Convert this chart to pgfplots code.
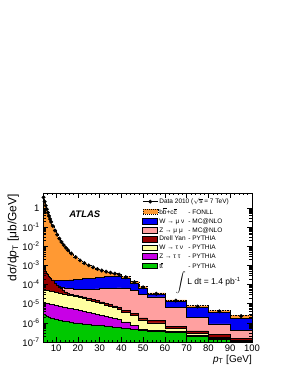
\documentclass[border=0pt]{standalone}
\usepackage{pgfplots}
\usepackage{pgfplotstable}
\usepackage{graphicx}
\pgfplotsset{compat=1.18}
\usepackage{fontspec}
\setmainfont{Liberation Sans}
\definecolor{cOrange}{RGB}{255,153,51}
\definecolor{cBlue}{RGB}{0,0,245}
\definecolor{cPink}{RGB}{255,160,160}
\definecolor{cDY}{RGB}{150,0,0}
\definecolor{cYellow}{RGB}{255,255,160}
\definecolor{cMag}{RGB}{200,0,230}
\definecolor{cGreen}{RGB}{0,200,0}
\newcommand{\ovl}[1]{\ensuremath{\overline{\mbox{#1}}}}

% cumulative stack tops, bin left edges
\pgfplotstableread{
x     tot     wmu     zmu     dy      wtau    ztau    tt
4     3.55    7.94e-4 7.94e-4 7.94e-4 5.62e-5 1.17e-5 2.82e-6
4.5   2.14    6.31e-4 6.31e-4 6.31e-4 5.50e-5 1.15e-5 2.63e-6
5     1.32    5.01e-4 5.01e-4 5.01e-4 5.25e-5 1.10e-5 2.45e-6
5.5   0.851   3.98e-4 3.98e-4 3.98e-4 5.13e-5 1.07e-5 2.29e-6
6     0.562   3.31e-4 3.31e-4 3.31e-4 5.01e-5 1.05e-5 2.14e-6
6.5   0.380   2.75e-4 2.75e-4 2.75e-4 4.79e-5 1.00e-5 2.00e-6
7     0.263   2.34e-4 2.34e-4 2.34e-4 4.68e-5 9.77e-6 1.91e-6
7.5   0.186   2.00e-4 2.00e-4 2.00e-4 4.57e-5 9.55e-6 1.82e-6
8     0.115   1.74e-4 1.58e-4 1.58e-4 4.37e-5 9.12e-6 1.70e-6
9     0.0661  1.58e-4 1.20e-4 1.20e-4 4.07e-5 8.51e-6 1.58e-6
10    0.0398  1.58e-4 9.55e-5 9.55e-5 3.89e-5 8.13e-6 1.48e-6
11    0.0251  1.58e-4 7.94e-5 7.59e-5 3.63e-5 7.59e-6 1.38e-6
12    0.0166  1.58e-4 7.41e-5 6.03e-5 3.47e-5 7.24e-6 1.32e-6
13    0.0115  1.62e-4 6.92e-5 5.01e-5 3.24e-5 6.76e-6 1.26e-6
14    8.32e-3 1.66e-4 6.61e-5 4.17e-5 3.02e-5 6.31e-6 1.20e-6
15    6.17e-3 1.70e-4 6.31e-5 3.55e-5 2.88e-5 6.03e-6 1.15e-6
16    4.17e-3 1.74e-4 6.03e-5 3.16e-5 2.63e-5 5.50e-6 1.07e-6
18    2.69e-3 1.82e-4 5.75e-5 2.82e-5 2.34e-5 4.90e-6 1.00e-6
20    1.82e-3 1.91e-4 5.62e-5 2.51e-5 2.04e-5 4.27e-6 9.33e-7
22    1.32e-3 2.00e-4 5.62e-5 2.24e-5 1.82e-5 3.80e-6 8.71e-7
24    1.00e-3 2.09e-4 5.62e-5 1.95e-5 1.58e-5 3.39e-6 8.32e-7
26    7.94e-4 2.19e-4 5.75e-5 1.70e-5 1.38e-5 3.02e-6 7.76e-7
28    6.46e-4 2.34e-4 5.89e-5 1.45e-5 1.17e-5 2.63e-6 7.41e-7
30    5.37e-4 2.45e-4 6.03e-5 1.23e-5 1.00e-5 2.34e-6 7.08e-7
32    4.68e-4 2.57e-4 6.17e-5 1.05e-5 8.51e-6 2.09e-6 6.76e-7
34    4.17e-4 2.69e-4 6.31e-5 8.91e-6 7.24e-6 1.86e-6 6.31e-7
36    3.72e-4 2.75e-4 6.46e-5 7.59e-6 6.17e-6 1.66e-6 6.03e-7
38    3.31e-4 2.82e-4 6.61e-5 6.46e-6 5.25e-6 1.48e-6 5.62e-7
40    2.63e-4 2.09e-4 6.31e-5 4.37e-6 3.55e-6 1.12e-6 5.01e-7
44    1.45e-4 1.17e-4 5.01e-5 3.16e-6 2.51e-6 7.08e-7 4.47e-7
48    7.94e-5 6.31e-5 3.16e-5 1.82e-6 1.41e-6 4.47e-7 3.98e-7
52    3.72e-5 3.02e-5 2.24e-5 1.32e-6 1.00e-6 3.98e-7 3.55e-7
60    1.58e-5 1.32e-5 6.31e-6 6.61e-7 5.01e-7 3.55e-7 3.16e-7
70    7.94e-6 6.31e-6 2.00e-6 3.80e-7 2.82e-7 2.24e-7 2.00e-7
80    4.47e-6 3.55e-6 8.91e-7 2.40e-7 1.78e-7 1.51e-7 1.41e-7
90    2.51e-6 1.78e-6 3.98e-7 1.58e-7 1.26e-7 1.12e-7 1.07e-7
100   2.51e-6 1.78e-6 3.98e-7 1.58e-7 1.26e-7 1.12e-7 1.07e-7
}\stack

\pgfplotstableread{
x     y
4.25  3.55
4.75  2.14
5.25  1.32
5.75  0.851
6.25  0.562
6.75  0.380
7.25  0.263
7.75  0.186
8.5   0.115
9.5   0.0661
10.5  0.0398
11.5  0.0251
12.5  0.0166
13.5  0.0115
14.5  8.32e-3
15.5  6.17e-3
17    4.17e-3
19    2.69e-3
21    1.82e-3
23    1.32e-3
25    1.00e-3
27    7.94e-4
29    6.46e-4
31    5.37e-4
33    4.68e-4
35    4.17e-4
37    3.72e-4
39    3.31e-4
42    2.40e-4
46    1.32e-4
50    7.08e-5
56    3.31e-5
65    1.45e-5
75    7.08e-6
85    3.98e-6
95    2.24e-6
}\data

\begin{document}
\begin{tikzpicture}[x=1pt,y=1pt]
\useasboundingbox (0,0) rectangle (286,371);
\begin{axis}[
  at={(43pt,29pt)}, anchor=south west,
  scale only axis, width=209pt, height=149pt,
  xmin=4, xmax=100, ymode=log, ymin=1e-7, ymax=6,
  log origin=infty, clip=false,
  xtick={0,10,20,...,100},
  xticklabels={0,10,20,30,40,50,60,70,80,90,100},
  minor x tick num=4,
  ytick={1e-7,1e-6,1e-5,1e-4,1e-3,1e-2,1e-1,1},
  yticklabels={10\textsuperscript{-7},10\textsuperscript{-6},10\textsuperscript{-5},10\textsuperscript{-4},10\textsuperscript{-3},10\textsuperscript{-2},10\textsuperscript{-1},1},
  tick align=inside,
  major tick length=5pt, minor tick length=2.5pt,
  tick style={black, line width=0.4pt},
  ticklabel style={font=\fontsize{9.5}{10}\selectfont},
  xticklabel style={yshift=1pt},
  axis line style={line width=0.5pt},
  axis on top,
  legend cell align=left,
  legend style={at={(rel axis cs:0.475,0.975)}, anchor=north west, draw=none, fill=none,
    font=\fontsize{6.5}{7}\selectfont, row sep=0pt, inner sep=0pt,
    nodes={inner sep=1.3pt}},
]
\addplot[const plot, fill=cOrange, draw=black, line width=0.5pt, dash pattern=on 1.5pt off 1pt, forget plot] table[x=x,y=tot]{\stack} \closedcycle;
\addplot[const plot, fill=cBlue, draw=black, line width=0.6pt, forget plot] table[x=x,y=wmu]{\stack} \closedcycle;
\addplot[const plot, fill=cPink, draw=black, line width=0.6pt, forget plot] table[x=x,y=zmu]{\stack} \closedcycle;
\addplot[const plot, fill=cDY, draw=black, line width=0.6pt, forget plot] table[x=x,y=dy]{\stack} \closedcycle;
\addplot[const plot, fill=cYellow, draw=black, line width=0.6pt, forget plot] table[x=x,y=wtau]{\stack} \closedcycle;
\addplot[const plot, fill=cMag, draw=black, line width=0.6pt, forget plot] table[x=x,y=ztau]{\stack} \closedcycle;
\addplot[const plot, fill=cGreen, draw=black, line width=0.6pt, forget plot] table[x=x,y=tt]{\stack} \closedcycle;
\addplot[only marks, mark=*, mark size=1.8pt, black, forget plot] table[x=x,y=y]{\data};

\addlegendimage{legend image code/.code={\draw[black,line width=0.6pt] (0pt,0pt) -- (15pt,0pt); \fill[black] (7.5pt,0pt) circle (1.7pt);}}
\addlegendentry{Data 2010 ($\sqrt{\mbox{s}}$ = 7 TeV)}
\addlegendimage{legend image code/.code={\draw[fill=cOrange,draw=black,line width=0.5pt,dash pattern=on 1pt off 1pt] (0pt,-2.6pt) rectangle (15pt,2.9pt);}}
\addlegendentry{\makebox[29pt][l]{b\ovl{b}+c\ovl{c}}- FONLL}
\addlegendimage{legend image code/.code={\draw[fill=cBlue,draw=black,line width=0.6pt] (0pt,-2.6pt) rectangle (15pt,2.9pt);}}
\addlegendentry{\makebox[29pt][l]{W → μ ν}- MC@NLO}
\addlegendimage{legend image code/.code={\draw[fill=cPink,draw=black,line width=0.6pt] (0pt,-2.6pt) rectangle (15pt,2.9pt);}}
\addlegendentry{\makebox[29pt][l]{Z → μ μ}- MC@NLO}
\addlegendimage{legend image code/.code={\draw[fill=cDY,draw=black,line width=0.6pt] (0pt,-2.6pt) rectangle (15pt,2.9pt);}}
\addlegendentry{\makebox[29pt][l]{Drell Yan}- PYTHIA}
\addlegendimage{legend image code/.code={\draw[fill=cYellow,draw=black,line width=0.6pt] (0pt,-2.6pt) rectangle (15pt,2.9pt);}}
\addlegendentry{\makebox[29pt][l]{W → τ ν}- PYTHIA}
\addlegendimage{legend image code/.code={\draw[fill=cMag,draw=black,line width=0.6pt] (0pt,-2.6pt) rectangle (15pt,2.9pt);}}
\addlegendentry{\makebox[29pt][l]{Z → τ τ}- PYTHIA}
\addlegendimage{legend image code/.code={\draw[fill=cGreen,draw=black,line width=0.6pt] (0pt,-2.6pt) rectangle (15pt,2.9pt);}}
\addlegendentry{\makebox[29pt][l]{t\ovl{t}}- PYTHIA}

\node[font=\fontsize{9.5}{11}\bfseries\itshape\selectfont] at (rel axis cs:0.2,0.86) {ATLAS};
\node[anchor=west, inner sep=0pt, font=\fontsize{8.5}{10}\selectfont] at (rel axis cs:0.635,0.40) {$\displaystyle\int$\,L dt = 1.4 pb\textsuperscript{-1}};
\end{axis}
\node[anchor=north east, inner sep=0pt, font=\fontsize{12}{14}\selectfont] at (19,177) {\rotatebox{90}{dσ/d\textit{p}\textsubscript{T} [μb/GeV]}};
\node[anchor=north east, inner sep=0pt, font=\fontsize{10}{12}\selectfont] at (252,16) {\textit{p}\textsubscript{T} [GeV]};
\end{tikzpicture}
\end{document}
